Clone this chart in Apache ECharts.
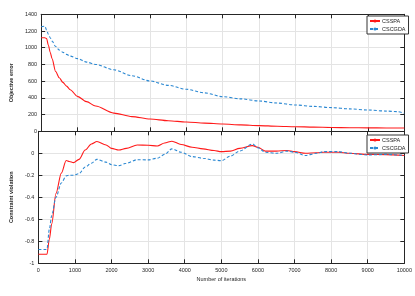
<!DOCTYPE html>
<html>
<head>
<meta charset="utf-8">
<script src="https://cdn.jsdelivr.net/npm/echarts@6/dist/echarts.min.js"></script>
<style>
html,body{margin:0;padding:0;background:#fff;}
#c{width:415px;height:296px;}
</style>
</head>
<body>
<div id="c"></div>
<script>
// ---- data ----
var topIter = [0,100,150,200,250,300,400,500,600,700,800,1000,1250,1500,2000,2500,3000,3500,4000,4500,5000,5500,6000,6500,7000,7500,8000,8500,9000,9500,9800,10000];
var topCSSPA = [1120,1120,1110,1030,945,870,715,640,585,540,498,418,355,302,218,176,147,127,111,98,87,77,68,61,55,50,46,43,41,40,39,39];
var topCSCGDA = [1250,1258,1213,1160,1120,1080,1015,972,945,920,900,870,828,800,736,665,602,550,503,460,414,388,363,338,315,298,283,268,255,242,235,215];

var botIter = [0,200,235,300,365,480,627,760,845,960,1110,1280,1450,1600,1850,2000,2200,2400,2700,3000,3250,3450,3650,3900,4200,4500,4800,5000,5250,5500,5850,6000,6200,6500,6800,7000,7300,7600,7800,8200,8500,9000,9500,10000];
var botCSSPA = [-0.918,-0.918,-0.918,-0.78,-0.64,-0.365,-0.18,-0.065,-0.075,-0.085,-0.055,0.03,0.085,0.107,0.076,0.045,0.03,0.045,0.075,0.073,0.067,0.094,0.11,0.08,0.055,0.04,0.025,0.015,0.02,0.045,0.07,0.055,0.02,0.02,0.025,0.015,0.0,0.005,0.01,0.01,0.0,-0.01,-0.012,-0.02];
var botCSCGDA = [-0.875,-0.875,-0.87,-0.69,-0.565,-0.4,-0.27,-0.205,-0.2,-0.2,-0.185,-0.125,-0.09,-0.055,-0.08,-0.104,-0.112,-0.09,-0.058,-0.06,-0.045,-0.01,0.04,0.01,-0.03,-0.045,-0.062,-0.067,-0.025,0.02,0.085,0.05,0.01,0.0,0.02,0.01,-0.02,0.0,0.015,0.015,0.0,-0.015,-0.01,-0.02];

var seriesNames = ['CSSPA','CSCGDA'];
var topYTicks = {min:0, max:1400, interval:200};
var botYTicks = {min:-1, max:0.2, interval:0.2};
var xTicks = {min:0, max:10000, interval:1000};

function pairs(xs, ys){ return xs.map(function(x,i){ return [x, ys[i]]; }); }

var RED = '#ff1a1a', BLUE = '#2b88d2', AX = '#262626', GRID = '#e4e4e4';
var FONT = 'Liberation Sans, Arial, sans-serif';

function plain(v){ return String(v); }

function xA(grid, opts){
  return Object.assign({
    type:'value', gridIndex:grid, min:xTicks.min, max:xTicks.max, interval:xTicks.interval,
    axisLine:{show:true, onZero:false, lineStyle:{color:AX, width:1}},
    axisTick:{show:true, inside:true, length:4, lineStyle:{color:AX}},
    splitLine:{show:false}, axisLabel:{show:false}
  }, opts||{});
}
function yA(grid, t, opts){
  return Object.assign({
    type:'value', gridIndex:grid, min:t.min, max:t.max, interval:t.interval,
    axisLine:{show:true, onZero:false, lineStyle:{color:AX, width:1}},
    axisTick:{show:true, inside:true, length:4, lineStyle:{color:AX}},
    splitLine:{show:false}, axisLabel:{show:false}
  }, opts||{});
}

var chart = echarts.init(document.getElementById('c'), null, {renderer:'canvas'});
chart.setOption({
  animation:false,
  backgroundColor:'#ffffff',
  textStyle:{fontFamily:FONT},
  grid:[
    {left:22.7, right:10.7, top:14.3, height:117, containLabel:false},
    {left:22.7, right:10.7, top:131.3, height:132, containLabel:false}
  ],
  xAxis:[
    xA(0, {position:'bottom', splitLine:{show:true, lineStyle:{color:GRID, width:1}}}),
    xA(1, {position:'bottom', splitLine:{show:true, lineStyle:{color:GRID, width:1}},
      axisLabel:{show:true, fontSize:5.5, color:'#262626', fontFamily:FONT, margin:4, formatter:plain},
      name:'Number of iterations', nameLocation:'middle', nameGap:13,
      nameTextStyle:{fontSize:5.5, color:'#262626', fontFamily:FONT}}),
    xA(0, {position:'top'}),
    xA(1, {position:'top'})
  ],
  yAxis:[
    yA(0, topYTicks, {position:'left', splitLine:{show:true, lineStyle:{color:GRID, width:1}},
      axisLabel:{show:true, fontSize:5.5, color:'#262626', fontFamily:FONT, margin:4, formatter:plain},
      name:'Objective error', nameLocation:'middle', nameGap:14,
      nameTextStyle:{fontSize:5.5, color:'#262626', fontFamily:FONT, fontWeight:'bold', padding:[0,0,0,-20]}}),
    yA(1, botYTicks, {position:'left', splitLine:{show:true, lineStyle:{color:GRID, width:1}},
      axisLabel:{show:true, fontSize:5.5, color:'#262626', fontFamily:FONT, margin:4,
        formatter:function(v){ if (v > 0.1) return ''; var r = Math.round(v*10)/10; return r === 0 ? '0' : String(r); }},
      name:'Constraint violation', nameLocation:'middle', nameGap:11,
      nameTextStyle:{fontSize:5.5, color:'#262626', fontFamily:FONT, fontWeight:'bold'}}),
    yA(0, topYTicks, {position:'right'}),
    yA(1, botYTicks, {position:'right'})
  ],
  legend:[
    {data:seriesNames, orient:'vertical', left:367, top:16, itemWidth:10, itemHeight:4, itemGap:2,
     padding:[2,3,2,2], borderColor:'#333', borderWidth:1, backgroundColor:'#fff', selectedMode:false,
     textStyle:{fontSize:5.5, color:'#262626', fontFamily:FONT, padding:[0,0,0,-3]}},
    {data:seriesNames, orient:'vertical', left:367, top:135, itemWidth:10, itemHeight:4, itemGap:2,
     padding:[2,3,2,2], borderColor:'#333', borderWidth:1, backgroundColor:'#fff', selectedMode:false,
     textStyle:{fontSize:5.5, color:'#262626', fontFamily:FONT, padding:[0,0,0,-3]}}
  ],
  series:[
    {name:'CSSPA', type:'line', xAxisIndex:0, yAxisIndex:0, data:pairs(topIter, topCSSPA),
     showSymbol:false, symbol:'none', smooth:0.3, smoothMonotone:'x', color:RED,
     lineStyle:{color:RED, width:1.1}},
    {name:'CSCGDA', type:'line', xAxisIndex:0, yAxisIndex:0, data:pairs(topIter, topCSCGDA),
     showSymbol:false, symbol:'none', smooth:0.3, smoothMonotone:'x', color:BLUE,
     lineStyle:{color:BLUE, width:1.1, type:[3,2]}},
    {name:'CSSPA', type:'line', xAxisIndex:1, yAxisIndex:1, data:pairs(botIter, botCSSPA),
     showSymbol:false, symbol:'none', smooth:0.3, smoothMonotone:'x', color:RED,
     lineStyle:{color:RED, width:1.1}},
    {name:'CSCGDA', type:'line', xAxisIndex:1, yAxisIndex:1, data:pairs(botIter, botCSCGDA),
     showSymbol:false, symbol:'none', smooth:0.3, smoothMonotone:'x', color:BLUE,
     lineStyle:{color:BLUE, width:1.1, type:[3,2]}}
  ]
});
</script>
</body>
</html>
